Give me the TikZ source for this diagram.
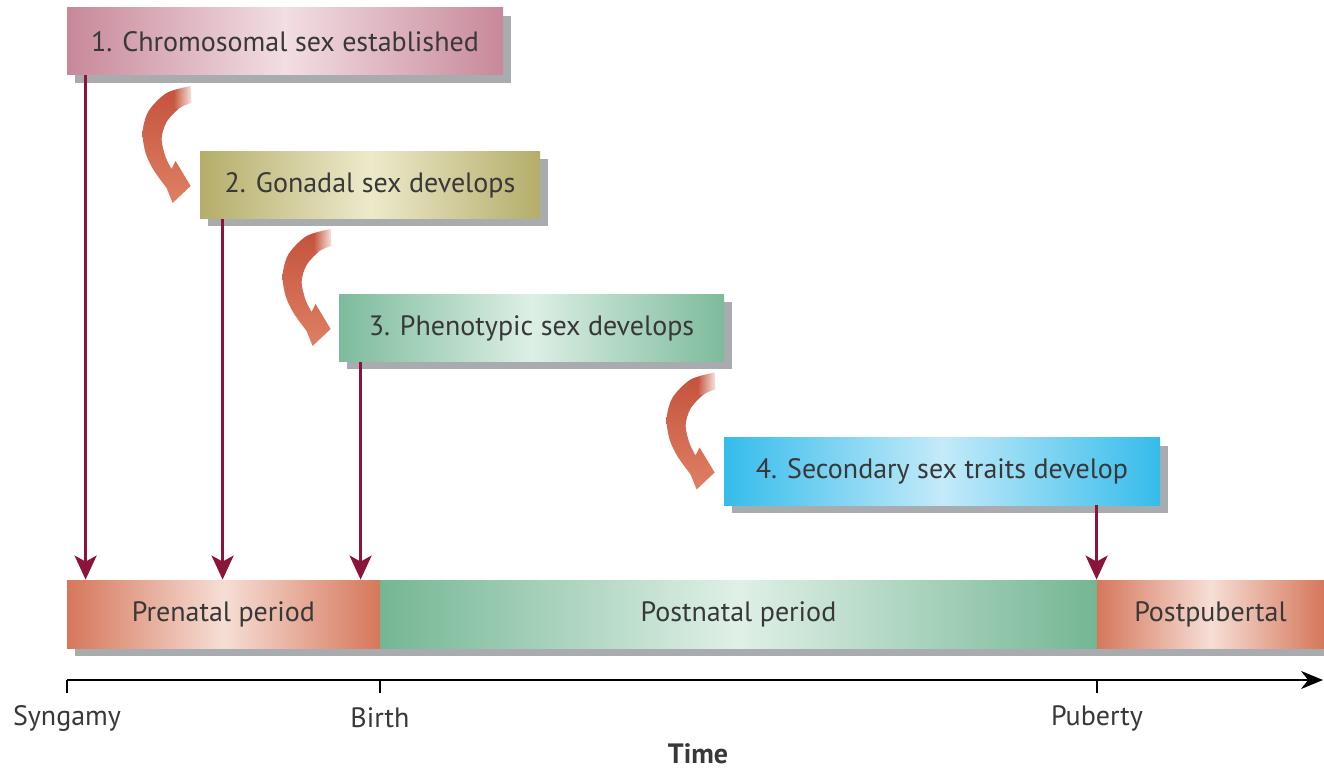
\documentclass[tikz,border=0pt]{standalone}
\usepackage{fontspec}
\setmainfont{PT Sans}
\usetikzlibrary{arrows.meta,fadings,shadows}

\definecolor{textgrey}{HTML}{383838}
\definecolor{shadowgrey}{HTML}{A9ACAF}
\definecolor{maroon}{HTML}{8A1538}
\definecolor{chromEdge}{HTML}{C8889A}
\definecolor{chromMid}{HTML}{F2DEE3}
\definecolor{gonadEdge}{HTML}{B4AD6A}
\definecolor{gonadMid}{HTML}{EDEACB}
\definecolor{phenoEdge}{HTML}{7DBB9C}
\definecolor{phenoMid}{HTML}{DDEFE5}
\definecolor{secEdge}{HTML}{35BCEB}
\definecolor{secMid}{HTML}{C4EAF9}
\definecolor{periodEdge}{HTML}{D6775B}
\definecolor{periodMid}{HTML}{F6DED5}
\definecolor{natalEdge}{HTML}{74B694}
\definecolor{natalMid}{HTML}{E0F0E7}
\definecolor{hookTop}{HTML}{C4513C}
\definecolor{hookBot}{HTML}{DE8063}

\tikzset{
  stagebox/.style={minimum height=33.5pt, inner sep=0pt, text=textgrey,
    font=\fontsize{14}{16}\selectfont,
    drop shadow={shadow xshift=4pt, shadow yshift=-4pt, fill=shadowgrey, opacity=1}},
  periodbar/.style={minimum height=34pt, inner sep=0pt, text=textgrey,
    font=\fontsize{14}{16}\selectfont,
    drop shadow={shadow xshift=4pt, shadow yshift=-4pt, fill=shadowgrey, opacity=1}},
  devarrow/.style={maroon, line width=1.5pt, -{Stealth[width=11pt,length=12pt,inset=3pt]}},
  timeaxis/.style={black, line width=1pt},
  axislabel/.style={text=textgrey, inner sep=1pt, font=\fontsize{14}{16}\selectfont},
  hookarrow/.pic={
    \shade[top color=hookTop, bottom color=hookBot]
      plot[smooth] coordinates {(3,-99) (-21,-92) (-39,-74) (-45,-53) (-42,-32) (-34,-15) (-21,3)}
      -- (-15,18) -- (3,1) -- (-12,-24)
      -- plot[smooth] coordinates {(-16,-16) (-22,-28) (-26,-46) (-21,-63) (-8,-77) (4,-82)}
      -- cycle;
    \fill[white, path fading=west] (-14,-102) rectangle (7,-76);
  }
}

\begin{document}
\begin{tikzpicture}[x=0.5pt, y=-0.5pt]
  \useasboundingbox (0,0) rectangle (1324,770);

  % stage boxes
  \node[stagebox, minimum width=218pt, left color=chromEdge, right color=chromEdge, middle color=chromMid] (chrom) at (285,41.5) {1. Chromosomal sex established};
  \node[stagebox, minimum width=170pt, left color=gonadEdge, right color=gonadEdge, middle color=gonadMid] (gonad) at (370,185) {2. Gonadal sex develops};
  \node[stagebox, minimum width=192.5pt, left color=phenoEdge, right color=phenoEdge, middle color=phenoMid] (pheno) at (531.5,328) {3. Phenotypic sex develops};
  \node[stagebox, minimum width=218pt, left color=secEdge, right color=secEdge, middle color=secMid] (second) at (942,471.5) {4. Secondary sex traits develop};

  % curved arrows between stages
  \pic at ([xshift=-6pt]gonad.west) {hookarrow};
  \pic at ([xshift=-5.5pt]pheno.west) {hookarrow};
  \pic at ([xshift=-6pt]second.west) {hookarrow};

  % period bar
  \node[periodbar, minimum width=156.5pt, left color=periodEdge, right color=periodEdge, middle color=periodMid] (prenatal) at (223.5,614) {Prenatal period};
  \node[periodbar, minimum width=358.5pt, left color=natalEdge, right color=natalEdge, middle color=natalMid] (postnatal) at (738.5,614) {Postnatal period};
  \node[periodbar, minimum width=113.5pt, left color=periodEdge, right color=periodEdge, middle color=periodMid] (postpub) at (1210.5,614) {Postpubertal};

  % timing arrows
  \coordinate (a1) at ([xshift=9.5pt]chrom.south west);
  \coordinate (a2) at ([xshift=11.5pt]gonad.south west);
  \coordinate (a3) at ([xshift=11pt]pheno.south west);
  \coordinate (a4) at (postpub.north west |- second.south);
  \draw[devarrow] (a1) -- (a1 |- prenatal.north);
  \draw[devarrow] (a2) -- (a2 |- prenatal.north);
  \draw[devarrow] (a3) -- (a3 |- prenatal.north);
  \draw[devarrow] (a4) -- (postpub.north west);

  % time axis
  \coordinate (axisL) at (67,680);
  \coordinate (axisR) at (1323,680);
  \draw[timeaxis, -{Stealth[width=9pt,length=11pt]}] (axisL) -- (axisR);
  \draw[timeaxis] (axisL) -- ++(0,13);
  \draw[timeaxis] (prenatal.south east |- axisL) -- ++(0,13);
  \draw[timeaxis] (postpub.south west |- axisL) -- ++(0,13);
  \node[axislabel] (syngamy) at (67,718) {Syngamy};
  \node[axislabel] (birth) at (380,718) {Birth};
  \node[axislabel] (puberty) at (1097,718) {Puberty};
  \node[axislabel, font=\fontsize{14}{16}\selectfont\bfseries] (time) at (698,754) {Time};
\end{tikzpicture}
\end{document}
